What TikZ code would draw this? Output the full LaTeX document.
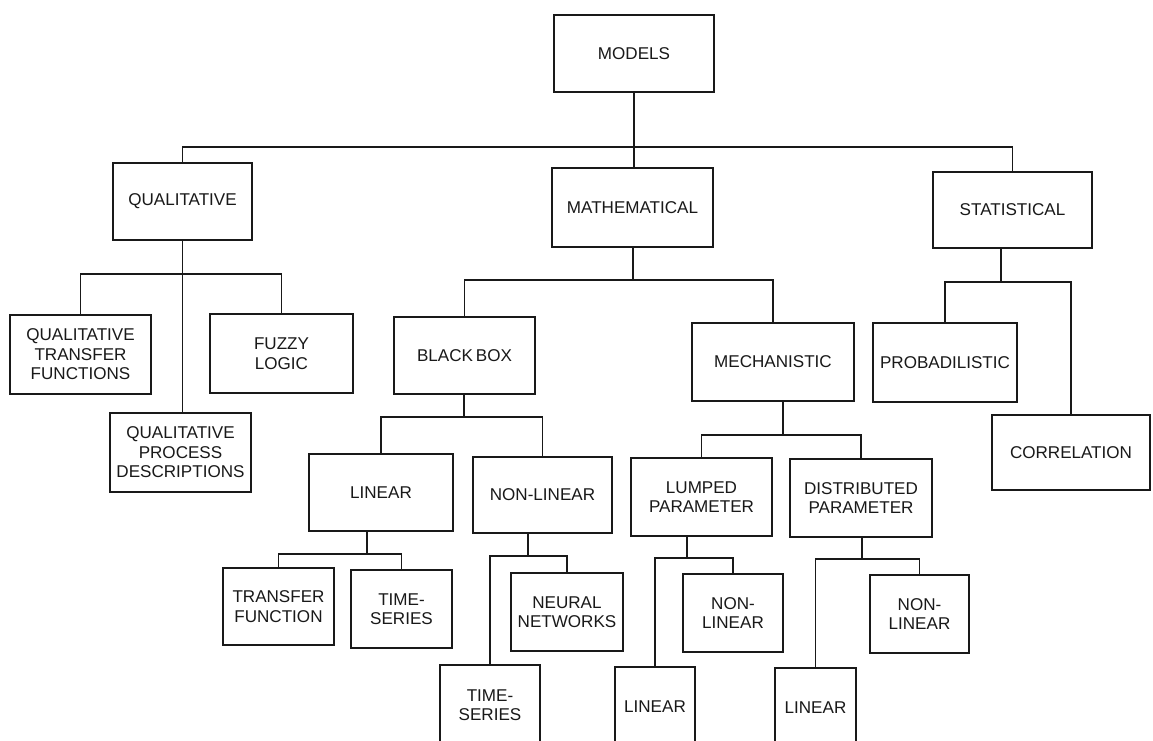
\documentclass[tikz,border=0pt]{standalone}
\usepackage{fontspec}
\setmainfont{Liberation Sans}

\tikzset{
  box/.style={draw=black!90, line width=1.5pt, align=center, inner sep=0pt,
    text=black!90, font=\fontsize{12.8}{14.6}\selectfont},
  link/.style={draw=black!90, line width=1.4pt},
}

\begin{document}
\begin{tikzpicture}[x=0.75pt,y=0.75pt,yscale=-1,xscale=1]
  % Page of 1153 x 741, anything past it is cut off
  \clip (0,0) rectangle (1153,741);
  \fill[white] (0,0) rectangle (1153,741);

  % Top level
  \node[box, minimum width=120pt, minimum height=57.75pt] (models) at (634,53.5) {MODELS};

  % Second level
  \node[box, minimum width=104.25pt, minimum height=57.75pt] (qual) at (182.5,201.5) {QUALITATIVE};
  \node[box, minimum width=120.75pt, minimum height=59.25pt] (math) at (632.5,207.5) {MATHEMATICAL};
  \node[box, minimum width=119.25pt, minimum height=57pt] (stat) at (1012.5,210) {STATISTICAL};

  % Children of qualitative
  \node[box, minimum width=105.75pt, minimum height=59.25pt] (qtf) at (80.5,354.5) {QUALITATIVE\\TRANSFER\\FUNCTIONS};
  \node[box, minimum width=107.25pt, minimum height=59.25pt] (fuzzy) at (281.5,353.5) {FUZZY\\LOGIC};
  \node[box, minimum width=105.75pt, minimum height=59.25pt] (qpd) at (180.5,452.5) {QUALITATIVE\\PROCESS\\DESCRIPTIONS};

  % Children of mathematical
  \node[box, minimum width=105.75pt, minimum height=57.75pt] (bbox) at (464.5,355.5) {BLACK\,BOX};
  \node[box, minimum width=121.5pt, minimum height=58.5pt] (mech) at (773,362) {MECHANISTIC};

  % Children of statistical
  \node[box, minimum width=108pt, minimum height=59.25pt] (prob) at (945,362.5) {PROBADILISTIC};
  \node[box, minimum width=118.5pt, minimum height=56.25pt] (corr) at (1071,452.5) {CORRELATION};

  % Children of black box
  \node[box, minimum width=108pt, minimum height=57.75pt] (lin) at (381,492.5) {LINEAR};
  \node[box, minimum width=104.25pt, minimum height=57pt] (nonlin) at (542.5,495) {NON-LINEAR};

  % Children of mechanistic
  \node[box, minimum width=105.75pt, minimum height=58.5pt] (lumped) at (701.5,497) {LUMPED\\PARAMETER};
  \node[box, minimum width=106.5pt, minimum height=58.5pt] (dist) at (861,498) {DISTRIBUTED\\PARAMETER};

  % Bottom rows
  \node[box, minimum width=83.25pt, minimum height=57.75pt] (transfer) at (278.5,606.5) {TRANSFER\\FUNCTION};
  \node[box, minimum width=75.75pt, minimum height=58.5pt] (tsa) at (401.5,609) {TIME-\\SERIES};
  \node[box, minimum width=84pt, minimum height=58.5pt] (neural) at (567,612) {NEURAL\\NETWORKS};
  \node[box, minimum width=75pt, minimum height=60pt] (tsb) at (490,705) {TIME-\\SERIES};
  \node[box, minimum width=75pt, minimum height=58.5pt] (lpnonlin) at (733,613) {NON-\\LINEAR};
  \node[box, minimum width=60pt, minimum height=60pt] (lplin) at (655,707) {LINEAR};
  \node[box, minimum width=74.25pt, minimum height=58.5pt] (dpnonlin) at (919.5,614) {NON-\\LINEAR};
  \node[box, minimum width=60.75pt, minimum height=60pt] (dplin) at (815.5,708) {LINEAR};

  % Branch points
  \coordinate (topbus) at (634,147);
  \coordinate (qualbus) at (182,274);
  \coordinate (mathbus) at (633,280);
  \coordinate (statbus) at (1001,282);
  \coordinate (bbbus) at (464,417);
  \coordinate (mechbus) at (783,435);
  \coordinate (linbus) at (367,554);
  \coordinate (nlbus) at (528,556);
  \coordinate (lpbus) at (687,558);
  \coordinate (dpbus) at (862,559);

  % Models
  \draw[link] (models.south) -- (topbus);
  \draw[link] (topbus) -- (topbus |- math.north);
  \draw[link] (qual.north) |- (topbus) -| (stat.north);

  % Qualitative
  \draw[link] (qual.south) -- (qual.south |- qpd.north);
  \draw[link] (qtf.north) |- (qualbus) -| (fuzzy.north);

  % Mathematical
  \draw[link] (math.south -| mathbus) -- (mathbus);
  \draw[link] (bbox.north) |- (mathbus) -| (mech.north);

  % Statistical
  \draw[link] (stat.south -| statbus) -- (statbus);
  \draw[link] (prob.north) |- (statbus) -| (corr.north);

  % Black box
  \draw[link] (bbox.south -| bbbus) -- (bbbus);
  \draw[link] (lin.north) |- (bbbus) -| (nonlin.north);

  % Mechanistic
  \draw[link] (mech.south -| mechbus) -- (mechbus);
  \draw[link] (lumped.north) |- (mechbus) -| (dist.north);

  % Linear and non-linear
  \draw[link] (lin.south -| linbus) -- (linbus);
  \draw[link] (transfer.north) |- (linbus) -| (tsa.north);
  \draw[link] (nonlin.south -| nlbus) -- (nlbus);
  \draw[link] (tsb.north) |- (nlbus) -| (neural.north);

  % Lumped and distributed parameter
  \draw[link] (lumped.south -| lpbus) -- (lpbus);
  \draw[link] (lplin.north) |- (lpbus) -| (lpnonlin.north);
  \draw[link] (dist.south -| dpbus) -- (dpbus);
  \draw[link] (dplin.north) |- (dpbus) -| (dpnonlin.north);
\end{tikzpicture}
\end{document}
